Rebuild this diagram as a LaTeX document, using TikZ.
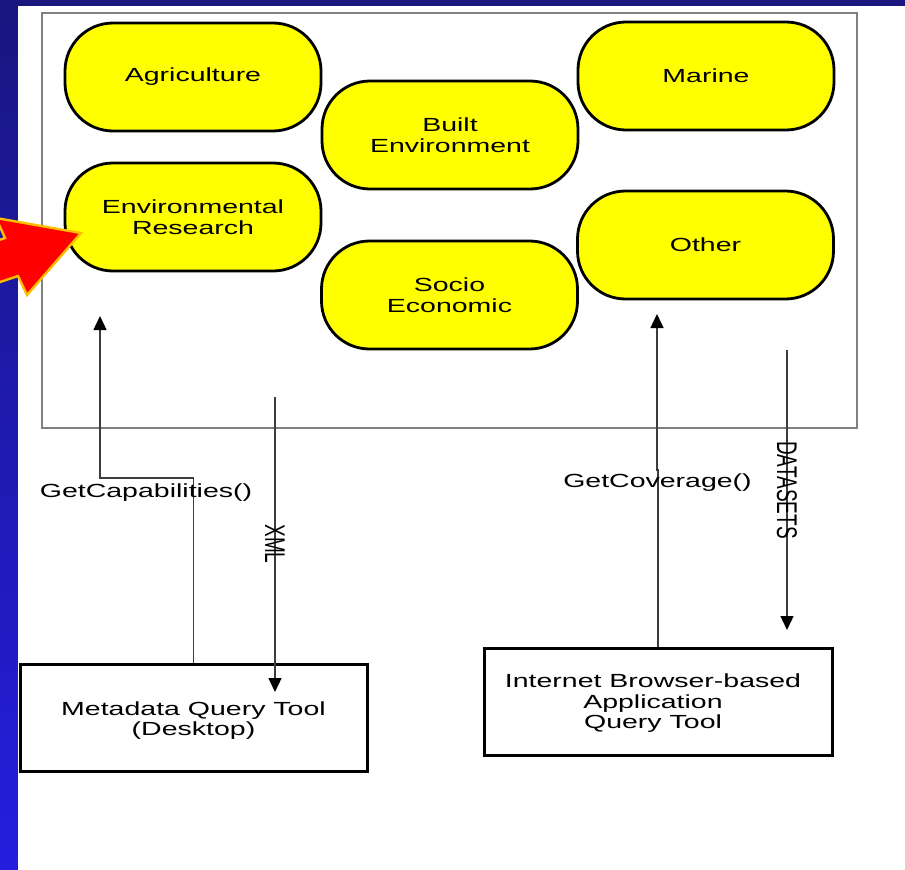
\documentclass[tikz,border=0pt]{standalone}
\usepackage{fontspec}
\usepackage{graphicx}
\usetikzlibrary{arrows.meta}
\newfontfamily\labfont[FakeStretch=1.5]{Liberation Sans}
\newfontfamily\rotfont{Liberation Sans}
\definecolor{navy}{RGB}{26,22,128}
\definecolor{brightblue}{RGB}{36,30,222}
\definecolor{framegray}{RGB}{128,128,128}
\definecolor{linegray}{RGB}{60,60,60}
\definecolor{blobyellow}{RGB}{255,255,0}
\definecolor{arrowred}{RGB}{255,0,0}
\definecolor{arroworange}{RGB}{255,190,0}
\newcommand{\rottext}[1]{\scalebox{1.5}[1]{\rotatebox{-90}{\rotfont\fontsize{19pt}{21pt}\selectfont #1}}}
\begin{document}
\begin{tikzpicture}[x=1pt,y=-1pt,
  blob/.style={draw=black, line width=2.8pt, fill=blobyellow, rounded corners=48pt,
    minimum width=256pt, minimum height=108pt, align=center, inner sep=0pt,
    font=\labfont\fontsize{19pt}{21.5pt}\selectfont},
  toolbox/.style={draw=black, line width=3pt, fill=white},
  conn/.style={draw=linegray, line width=1.3pt},
  arr/.style={conn, -{Triangle[width=13pt,length=14pt,color=black]}},
  lab/.style={inner sep=0pt, font=\labfont\fontsize{19pt}{21pt}\selectfont},
  boxlab/.style={inner sep=0pt, align=center, font=\labfont\fontsize{19pt}{20pt}\selectfont},
  rlab/.style={inner sep=0pt}
]
\useasboundingbox (0,0) rectangle (905,870);
\clip (0,0) rectangle (905,870);
% background
\shade[top color=navy, bottom color=brightblue] (0,0) rectangle (905,870);
\fill[white] (18,6) rectangle (905,870);
% frame
\draw[framegray, line width=1.4pt] (42,13) rectangle (857,428);
% blobs
\node[blob] (agri) at (193,77) {Agriculture};
\node[blob] (env)  at (193,217) {Environmental\\Research};
\node[blob] (built) at (450,135) {Built\\Environment};
\node[blob] (socio) at (449.5,295) {Socio\\Economic};
\node[blob] (marine) at (706,76) {Marine};
\node[blob] (other) at (705.5,245) {Other};
% tool boxes
\node[toolbox, minimum width=347pt, minimum height=107pt] (meta) at (193.5,717.5) {};
\node[boxlab] (metaText) at ([yshift=-3.5pt]meta.center) {Metadata Query Tool\\(Desktop)};
\node[toolbox, minimum width=348pt, minimum height=107pt] (inet) at (658,701.5) {};
\node[boxlab, font=\labfont\fontsize{19pt}{20.5pt}\selectfont] (inetText) at ([xshift=-5pt,yshift=-2pt]inet.center)
  {Internet Browser-based\\Application\\Query Tool};
% coordinates for free ends
\coordinate (capElbow) at (100,478);
\coordinate (capEnd) at (100,316);
\coordinate (xmlStart) at (275,397);
\coordinate (xmlEnd) at (275,692);
\coordinate (covJog) at (657,470);
\coordinate (covEnd) at (657,314);
\coordinate (dsStart) at (787,350);
\coordinate (dsEnd) at (787,630);
% connectors
\draw[arr] (meta.north) |- (capElbow) -- (capEnd);
\draw[arr] (xmlStart) -- (xmlEnd);
\draw[arr] (inet.north) |- (covJog) -- (covEnd);
\draw[arr] (dsStart) -- (dsEnd);
% labels
\node[lab, anchor=base] (capLab) at (146,497) {GetCapabilities()};
\node[lab, anchor=base] (covLab) at (657.5,487) {GetCoverage()};
\node[rlab] (xmlLab) at (275,544) {\rottext{XML}};
\node[rlab] (dsLab) at (787,490) {\rottext{DATASETS}};
% red arrow
\filldraw[fill=arrowred, draw=arroworange, line width=2.4pt, line join=miter]
  (81,233) -- (27,295) -- (18,276) -- (-77,308) -- (-89,270) -- (5,238) -- (-4,218) -- cycle;
\end{tikzpicture}
\end{document}
